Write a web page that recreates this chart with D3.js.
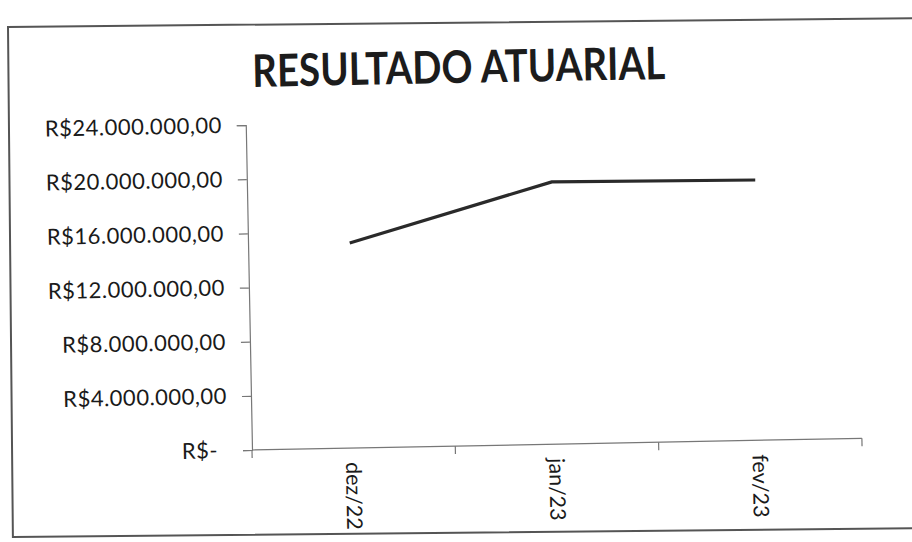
<!DOCTYPE html>
<html>
<head>
<meta charset="utf-8">
<script src="https://cdn.jsdelivr.net/npm/d3@7/dist/d3.min.js"></script>
<style>
  html, body { margin: 0; padding: 0; background: #fff; }
  svg { display: block; }
</style>
</head>
<body>
<script>
const title = "RESULTADO ATUARIAL";
const categories = ["dez/22", "jan/23", "fev/23"];
const values = [15150000, 19370000, 19220000];
const yTickValues = [0, 4000000, 8000000, 12000000, 16000000, 20000000, 24000000];

const W = 912, H = 542;
const plot = { left: 252, right: 862, top: 125, bottom: 450 };

const locale = d3.formatLocale({ decimal: ",", thousands: ".", grouping: [3], currency: ["R$", ""] });
const fmt = v => v === 0 ? "R$-" : locale.format("$,.2f")(v);

const svg = d3.select("body").append("svg").attr("width", W).attr("height", H);
svg.append("rect").attr("width", W).attr("height", H).attr("fill", "#fff");

// outer frame (scanned, slightly tilted)
svg.append("rect")
  .attr("transform", "rotate(-0.55, 8, 27)")
  .attr("x", 8).attr("y", 27).attr("width", 940).attr("height", 510)
  .attr("fill", "none").attr("stroke", "#555").attr("stroke-width", 2);

const g = svg.append("g").attr("transform", `rotate(-1.1, ${plot.left}, ${plot.bottom})`);

// title
g.append("text")
  .attr("x", 466).attr("y", 70)
  .attr("text-anchor", "middle").attr("dominant-baseline", "central")
  .attr("font-family", "Lato, 'Open Sans', sans-serif")
  .attr("font-weight", "bold").attr("font-size", 45)
  .attr("textLength", 413).attr("lengthAdjust", "spacingAndGlyphs")
  .attr("fill", "#1c1c1c")
  .text(title);

const x = d3.scaleBand().domain(categories).range([plot.left, plot.right]).padding(0);
const y = d3.scaleLinear().domain([0, 24000000]).range([plot.bottom, plot.top]);

// y axis
const yAxis = d3.axisLeft(y).tickValues(yTickValues).tickFormat(fmt).tickSize(9).tickPadding(15);
const ya = g.append("g").attr("transform", `translate(${plot.left},0)`).call(yAxis);
ya.select(".domain").attr("stroke", "#777").attr("stroke-width", 1.2);
ya.selectAll(".tick line").attr("stroke", "#777").attr("stroke-width", 1.2);
ya.selectAll(".tick text")
  .attr("font-family", "Lato, 'Open Sans', sans-serif")
  .attr("font-size", 22).attr("letter-spacing", 0.5)
  .attr("fill", "#1a1a1a")
  .attr("dx", d => d === 0 ? -10 : 0);

// x axis line
g.append("line")
  .attr("x1", plot.left).attr("x2", plot.right)
  .attr("y1", plot.bottom).attr("y2", plot.bottom)
  .attr("stroke", "#777").attr("stroke-width", 1.2);

// x category boundary ticks
const boundaries = categories.map(c => x(c)).concat([x(categories[categories.length - 1]) + x.bandwidth()]);
g.selectAll(".xtick").data(boundaries).join("line")
  .attr("class", "xtick")
  .attr("x1", d => d).attr("x2", d => d)
  .attr("y1", plot.bottom).attr("y2", plot.bottom + 8)
  .attr("stroke", "#777").attr("stroke-width", 1.2);

// x labels (rotated)
g.selectAll(".xlabel").data(categories).join("text")
  .attr("class", "xlabel")
  .attr("transform", d => `translate(${x(d) + x.bandwidth() / 2},${plot.bottom + 14}) rotate(90)`)
  .attr("text-anchor", "start").attr("dominant-baseline", "central")
  .attr("font-family", "Lato, 'Open Sans', sans-serif")
  .attr("font-size", 21.5).attr("fill", "#1a1a1a")
  .text(d => d);

// line
const line = d3.line()
  .x((d, i) => x(categories[i]) + x.bandwidth() / 2)
  .y(d => y(d));
g.append("path")
  .datum(values)
  .attr("d", line)
  .attr("fill", "none").attr("stroke", "#2a2a2a").attr("stroke-width", 3.2)
  .attr("stroke-linejoin", "round");
</script>
</body>
</html>
